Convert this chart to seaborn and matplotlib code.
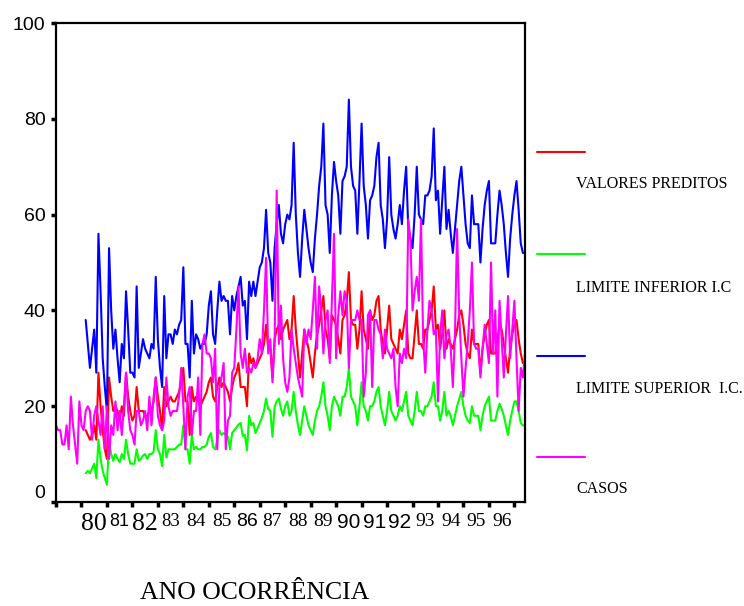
import numpy as np
import pandas as pd
import matplotlib
matplotlib.use("Agg")
import matplotlib.pyplot as plt
import matplotlib.transforms as mtransforms
from matplotlib.lines import Line2D
import seaborn as sns

# ---------------- data (monthly values) ----------------
CASOS_START = "1979-01"
MODEL_START = "1980-03"

casos = [
    16, 15, 15, 12, 12, 16, 11, 22, 16, 12, 8, 21,
    16, 15, 19, 20, 19, 13, 18, 20, 17, 14, 20, 11,
    20, 9, 16, 14, 21, 15, 19, 14, 20, 27, 19, 15,
    14, 12, 19, 19, 16, 17, 19, 15, 22, 16, 22, 26,
    18, 16, 15, 17, 26, 20, 18, 19, 19, 19, 22, 28,
    20, 11, 22, 24, 14, 19, 19, 26, 14, 33, 35, 31,
    31, 30, 25, 32, 11, 24, 26, 29, 11, 17, 18, 27,
    28, 36, 45, 31, 28, 32, 27, 28, 27, 29, 28, 30,
    34, 31, 40, 51, 31, 34, 25, 33, 65, 33, 41, 30,
    25, 23, 26, 36, 32, 29, 26, 24, 22, 36, 33, 36,
    34, 40, 47, 32, 45, 40, 31, 38, 40, 29, 42, 56,
    30, 39, 44, 39, 44, 42, 28, 38, 38, 38, 40, 38,
    38, 22, 27, 39, 40, 24, 38, 38, 36, 35, 30, 36,
    32, 31, 30, 32, 24, 20, 31, 29, 32, 30, 59, 55,
    40, 44, 47, 42, 59, 34, 27, 36, 42, 40, 35, 36,
    21, 35, 40, 30, 35, 36, 32, 24, 35, 57, 39, 30,
    22, 28, 33, 40, 50, 33, 32, 32, 26, 32, 37, 33,
    29, 50, 31, 40, 22, 42, 34, 26, 35, 43, 30, 36,
    42, 30, 19, 28, 26, 31,
]

limite_superior = [
    38, 33, 28, 32, 36, 27, 56, 44, 30, 24,
    19, 53, 40, 32, 36, 30, 25, 33, 30, 44, 36, 27,
    27, 26, 45, 28, 31, 34, 32, 31, 30, 33, 32, 47,
    34, 28, 24, 43, 30, 35, 35, 33, 36, 35, 37, 38,
    49, 33, 33, 26, 42, 31, 35, 34, 32, 33, 33, 35,
    41, 44, 35, 33, 40, 46, 42, 43, 42, 42, 35, 43,
    40, 43, 45, 47, 41, 42, 34, 46, 43, 46, 43, 46,
    49, 50, 53, 61, 52, 50, 42, 53, 58, 62, 56, 54,
    58, 60, 59, 62, 75, 60, 52, 47, 55, 61, 57, 53,
    50, 48, 55, 60, 66, 70, 79, 62, 60, 52, 64, 71,
    67, 64, 56, 67, 68, 70, 84, 70, 66, 65, 56, 67,
    79, 66, 62, 55, 63, 64, 66, 72, 75, 62, 59, 53,
    59, 72, 60, 57, 55, 58, 62, 58, 65, 70, 57, 55,
    53, 60, 70, 60, 59, 58, 64, 64, 65, 68, 78, 63,
    65, 56, 63, 70, 57, 61, 56, 52, 57, 62, 67, 70,
    64, 58, 54, 53, 64, 58, 58, 58, 50, 57, 62, 65,
    67, 54, 54, 54, 60, 65, 62, 58, 52, 47, 55, 60,
    64, 67, 61, 54, 52, 52,
]

valores_preditos = [
    15, 14, 13, 14, 16, 13, 27, 20, 15, 11,
    9, 26, 22, 19, 20, 19, 17, 20, 18, 27, 22, 19,
    17, 18, 24, 19, 19, 19, 18, 18, 19, 19, 21, 26,
    22, 19, 15, 24, 20, 21, 22, 21, 21, 22, 23, 25,
    28, 21, 21, 14, 24, 21, 22, 21, 20, 21, 22, 23,
    25, 26, 22, 21, 24, 26, 24, 25, 24, 23, 21, 24,
    26, 27, 29, 24, 24, 24, 20, 31, 29, 30, 28, 29,
    30, 31, 33, 37, 32, 32, 26, 34, 36, 37, 34, 36,
    37, 38, 34, 36, 43, 36, 31, 26, 31, 36, 34, 32,
    29, 26, 31, 35, 37, 40, 43, 36, 34, 30, 39, 38,
    37, 34, 31, 38, 39, 42, 48, 38, 37, 37, 32, 36,
    44, 36, 34, 32, 40, 38, 39, 42, 43, 36, 33, 31,
    36, 41, 34, 33, 32, 31, 36, 34, 37, 40, 31, 30,
    30, 35, 40, 33, 33, 32, 36, 36, 38, 40, 45, 36,
    37, 32, 35, 40, 32, 34, 33, 32, 34, 36, 39, 40,
    37, 33, 31, 30, 36, 33, 33, 33, 27, 32, 35, 37,
    38, 31, 31, 31, 34, 37, 36, 33, 30, 27, 32, 35,
    37, 38, 34, 31, 29, 29,
]

limite_inferior = [
    6, 6.5, 6, 7, 8, 5, 13, 9, 6.5, 5,
    3.6, 13, 10, 8.6, 10, 9, 8.3, 10, 9, 13, 10, 8,
    8, 8, 11, 8.6, 9, 9.7, 10, 9, 10, 10, 10.5, 15,
    11, 10, 7.5, 14, 9.3, 11, 11, 11, 11, 11.5, 12, 12,
    16, 11, 11, 8, 14, 11, 11.5, 11, 11, 11.5, 11.5, 12,
    13.6, 14.4, 11.5, 11, 13, 15, 14, 14.4, 14, 13.6, 11, 14.4,
    15, 15.5, 16.2, 16.5, 13.8, 14, 10.8, 18, 16, 16.5, 14.4, 15.4,
    16.5, 17.6, 19, 21.6, 19.4, 19, 13.6, 19.8, 21, 21.6, 19.5, 18,
    20, 21, 18, 19, 23, 19, 16, 14, 17, 20, 18, 16,
    15, 14, 17, 19, 20, 22, 25, 20, 18, 15, 20, 22,
    21, 20, 18, 22, 22, 24, 28, 22, 21, 20, 16, 20,
    25, 20, 19, 17, 20, 20, 21, 23, 24, 20, 18, 16,
    19, 23, 19, 18, 17, 18, 20, 19, 21, 23, 18, 17,
    16, 19, 23, 19, 19, 18, 20, 20, 21, 22, 25, 20,
    20, 17, 19, 23, 18, 19, 18, 16, 18, 20, 21.5, 23,
    20, 18, 17, 16.5, 20, 18, 18, 18, 15, 18, 20, 21,
    22, 17, 17, 17, 19, 20.5, 19.5, 18, 16, 14, 17, 19,
    21, 21, 19, 16.5, 16, 16,
]

year_labels = ["80", "81", "82", "83", "84", "85", "86", "87", "88",
               "89", "90", "91", "92", "93", "94", "95", "96"]
legend_labels = ["VALORES PREDITOS", "LIMITE INFERIOR I.C",
                 "LIMITE SUPERIOR  I.C.", "CASOS"]
x_title = "ANO OCORRÊNCIA"
y_ticks = [0, 20, 40, 60, 80, 100]

# ---------------- styling ----------------
SERIF = "Liberation Serif"
SANS = "Liberation Sans"
colors = {"pred": "#ff0000", "inf": "#00ff00", "sup": "#0000ff", "casos": "#ff00ff"}
label_styles = [(SERIF, 18.5), (SANS, 13), (SERIF, 18.5), (SERIF, 13.5), (SERIF, 14),
                (SERIF, 14), (SANS, 14), (SERIF, 14), (SERIF, 14), (SERIF, 14),
                (SANS, 15), (SANS, 15), (SANS, 15), (SERIF, 14), (SERIF, 14),
                (SERIF, 14), (SERIF, 14)]


def decimal_years(start, n):
    p = pd.period_range(start, periods=n, freq="M")
    return np.asarray(p.year + (p.month - 1) / 12.0, dtype=float)


df_casos = pd.DataFrame({"ano": decimal_years(CASOS_START, len(casos)), "valor": casos})
df_model = pd.DataFrame({
    "ano": decimal_years(MODEL_START, len(valores_preditos)),
    "pred": valores_preditos,
    "inf": limite_inferior,
    "sup": limite_superior,
})

sns.set_style("white")
plt.rcParams["font.family"] = [SANS, "DejaVu Sans"]

W, H = 744, 606
fig = plt.figure(figsize=(W / 100, H / 100), dpi=100)
ax = fig.add_axes([56 / W, (H - 502) / H, (525 - 56) / W, (502 - 23) / H])

lw = 1.5
sns.lineplot(data=df_model, x="ano", y="pred", color=colors["pred"], lw=lw,
             estimator=None, ax=ax, legend=False)
sns.lineplot(data=df_model, x="ano", y="inf", color=colors["inf"], lw=lw,
             estimator=None, ax=ax, legend=False)
sns.lineplot(data=df_model, x="ano", y="sup", color=colors["sup"], lw=lw,
             estimator=None, ax=ax, legend=False)
sns.lineplot(data=df_casos, x="ano", y="valor", color=colors["casos"], lw=lw,
             estimator=None, ax=ax, legend=False)

x_first = df_casos["ano"].iloc[0]
x_last = df_casos["ano"].iloc[-1]
ax.set_xlim(x_first, x_last)
ax.set_ylim(0, 100)
ax.set_xlabel("")
ax.set_ylabel("")

for sp in ax.spines.values():
    sp.set_visible(True)
    sp.set_color("black")
    sp.set_linewidth(1.6)

# x ticks: year boundaries as marks, year names between them
first_year = int(np.floor(x_first))
boundaries = np.arange(first_year, int(np.floor(x_last)) + 1)
ax.set_xticks(boundaries, labels=[""] * len(boundaries))
centers = np.array([1900 + int(l) for l in year_labels]) + 0.5
ax.set_xticks(centers, labels=year_labels, minor=True)
ax.tick_params(axis="x", which="major", direction="out", length=3.5, width=2.5,
               color="black", bottom=True)
ax.tick_params(axis="x", which="minor", length=0, pad=8, bottom=True)
for lab, (fam, size) in zip(ax.get_xticklabels(minor=True), label_styles):
    lab.set_fontfamily(fam)
    lab.set_fontsize(size)
    lab.set_color("black")

ax.set_yticks(y_ticks, labels=[str(v) for v in y_ticks])
ax.tick_params(axis="y", direction="out", length=3.5, width=2.5, color="black",
               labelsize=14, pad=4, left=True)
for lab in ax.get_yticklabels():
    lab.set_fontfamily(SANS)
    lab.set_color("black")
lab0 = ax.get_yticklabels()[0]
lab0.set_transform(lab0.get_transform()
                   + mtransforms.ScaledTranslation(0, 0.1, fig.dpi_scale_trans))

# axis title (placed as in the reference, left of the axes centre)
fig.text(255 / W, 1 - 599 / H, x_title, ha="center", va="baseline",
         fontsize=18.5, family=SERIF, color="black")

# legend: sample line above, label below-right
legend_line_y = [152, 254, 356, 457]
legend_text_y = [188, 292, 393, 493]
legend_colors = [colors["pred"], colors["inf"], colors["sup"], colors["casos"]]
for lbl, c, ly, ty in zip(legend_labels, legend_colors, legend_line_y, legend_text_y):
    fig.add_artist(Line2D([537 / W, 585 / W], [1 - ly / H, 1 - ly / H],
                          transform=fig.transFigure, color=c, lw=1.5))
    fig.text(576 / W, 1 - ty / H, lbl, ha="left", va="baseline",
             fontsize=11.5, family=SERIF, color="black")

fig.savefig("out.png", dpi=100, facecolor="white")
